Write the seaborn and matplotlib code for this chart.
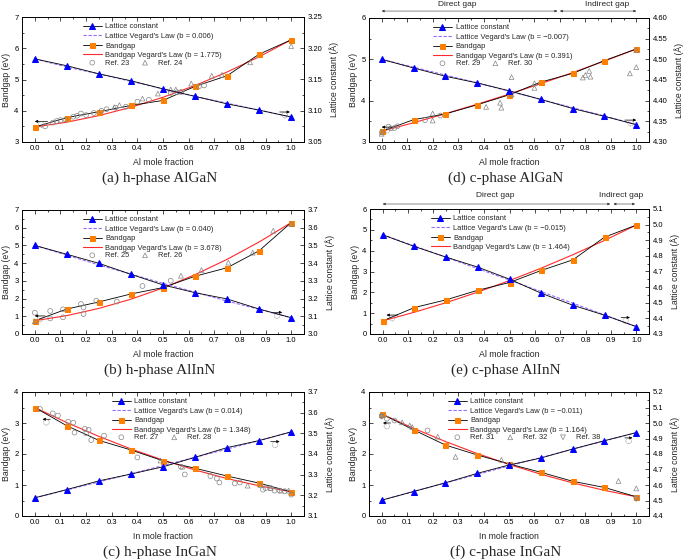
import matplotlib
matplotlib.use('Agg')
import matplotlib.pyplot as plt
from matplotlib.patches import Ellipse
from matplotlib.ticker import AutoMinorLocator, MultipleLocator, FormatStrFormatter
import seaborn as sns

sns.set_theme(style='ticks')
plt.rcParams['font.family'] = ['Liberation Sans', 'DejaVu Sans']
plt.rcParams['axes.linewidth'] = 0.6

# composition grid of the calculated points
x_comp = [0.0, 0.125, 0.25, 0.375, 0.5, 0.625, 0.75, 0.875, 1.0]

# (a) h-phase AlGaN
a_gap = [3.48, 3.78, 3.97, 4.17, 4.33, 4.78, 5.12, 5.81, 6.27]
a_gap_veg = [3.48, 3.635, 3.845, 4.110, 4.431, 4.808, 5.240, 5.727, 6.27]
a_lat = [3.183, 3.172, 3.159, 3.148, 3.135, 3.123, 3.111, 3.101, 3.090]
a_lat_veg = [3.183, 3.170, 3.159, 3.147, 3.135, 3.123, 3.112, 3.101, 3.090]
a_ref23_x = [0.04, 0.07, 0.085, 0.10, 0.12, 0.15, 0.165, 0.18, 0.20, 0.23, 0.26, 0.28,
             0.315, 0.355, 0.40, 0.445, 0.53, 0.555, 0.57, 0.64, 0.66]
a_ref23_y = [3.50, 3.62, 3.67, 3.70, 3.72, 3.81, 3.84, 3.91, 3.86, 3.93, 4.00, 4.05,
             4.10, 4.13, 4.29, 4.35, 4.57, 4.59, 4.60, 4.78, 4.81]
a_ref24_x = [0.31, 0.33, 0.42, 0.48, 0.53, 0.55, 0.61, 0.69, 0.73, 0.84, 1.0]
a_ref24_y = [4.11, 4.18, 4.39, 4.55, 4.68, 4.68, 4.87, 5.12, 5.15, 5.55, 6.07]

# (d) c-phase AlGaN
d_gap = [3.26, 3.54, 3.68, 3.90, 4.14, 4.45, 4.66, 4.97, 5.25]
d_gap_veg = [3.26, 3.466, 3.684, 3.914, 4.157, 4.412, 4.679, 4.958, 5.25]
d_lat = [4.500, 4.479, 4.459, 4.443, 4.424, 4.403, 4.381, 4.362, 4.342]
d_lat_veg = [4.500, 4.481, 4.462, 4.443, 4.423, 4.403, 4.383, 4.363, 4.342]
d_ref29_x = [0.0, 0.026, 0.036, 0.05, 0.062, 0.17, 0.23]
d_ref29_y = [3.23, 3.37, 3.33, 3.34, 3.38, 3.53, 3.64]
d_ref30_x = [0.0, 0.20, 0.20, 0.41, 0.465, 0.47, 0.51, 0.51, 0.60, 0.60,
             0.79, 0.80, 0.815, 0.82, 0.975, 1.0, 1.0]
d_ref30_y = [3.20, 3.69, 3.52, 3.85, 3.95, 3.83, 4.57, 4.15, 4.31, 4.42,
             4.56, 4.62, 4.72, 4.58, 4.66, 4.81, 5.23]

# (b) h-phase AlInN
b_gap = [0.75, 1.41, 1.81, 2.26, 2.62, 3.26, 3.74, 4.70, 6.29]
b_gap_veg = [0.75, 1.04, 1.445, 1.965, 2.60, 3.35, 4.215, 5.195, 6.29]
b_lat = [3.500, 3.450, 3.399, 3.337, 3.277, 3.233, 3.198, 3.141, 3.092]
b_lat_veg = [3.500, 3.445, 3.390, 3.338, 3.286, 3.236, 3.186, 3.139, 3.092]
b_ref25_x = [0.0, 0.06, 0.06, 0.11, 0.11, 0.18, 0.19, 0.19, 0.24, 0.32, 0.42, 0.53]
b_ref25_y = [1.20, 0.88, 1.30, 1.39, 0.94, 1.69, 1.50, 1.13, 1.88, 1.83, 2.71, 3.01]
b_ref26_x = [0.0, 0.57, 0.65, 0.755, 0.85, 0.93, 1.0]
b_ref26_y = [0.72, 3.29, 3.61, 4.03, 4.59, 5.83, 6.22]

# (e) c-phase AlInN
e_gap = [0.63, 1.27, 1.64, 2.10, 2.47, 3.05, 3.56, 4.65, 5.23]
e_gap_veg = [0.63, 1.045, 1.505, 2.012, 2.564, 3.162, 3.805, 4.495, 5.23]
e_lat = [4.935, 4.860, 4.792, 4.728, 4.651, 4.561, 4.484, 4.420, 4.347]
e_lat_veg = [4.935, 4.863, 4.791, 4.718, 4.645, 4.571, 4.497, 4.422, 4.347]

# (c) h-phase InGaN
c_gap = [3.50, 2.91, 2.44, 2.13, 1.78, 1.54, 1.29, 1.06, 0.78]
c_gap_veg = [3.50, 3.013, 2.567, 2.164, 1.803, 1.484, 1.207, 0.973, 0.78]
c_lat = [3.188, 3.228, 3.270, 3.303, 3.338, 3.384, 3.431, 3.465, 3.507]
c_lat_veg = [3.188, 3.226, 3.265, 3.304, 3.344, 3.384, 3.424, 3.465, 3.507]
c_ref27_x = [0.02, 0.07, 0.09, 0.13, 0.15, 0.155, 0.195, 0.20, 0.21, 0.22, 0.27, 0.40,
             0.57, 0.585, 0.685, 0.71, 0.72, 0.78, 0.80, 0.89, 0.90, 0.92, 0.935,
             0.955, 0.975, 1.0]
c_ref27_y = [3.45, 3.31, 3.24, 3.04, 3.01, 2.69, 2.81, 2.67, 2.78, 2.45, 2.59, 1.89,
             1.59, 1.34, 1.29, 1.21, 1.08, 1.05, 1.08, 0.85, 0.90, 0.90, 0.82,
             0.82, 0.80, 0.69]
c_ref28_x = [0.49, 0.575, 0.83, 0.88, 0.92, 0.96, 0.99]
c_ref28_y = [1.79, 1.59, 0.98, 1.00, 0.90, 0.82, 0.82]

# (f) c-phase InGaN
f_gap = [3.29, 2.78, 2.29, 1.97, 1.68, 1.41, 1.12, 0.92, 0.62]
f_gap_veg = [3.29, 2.829, 2.404, 2.016, 1.664, 1.348, 1.069, 0.827, 0.62]
f_lat = [4.502, 4.558, 4.614, 4.675, 4.729, 4.774, 4.832, 4.886, 4.938]
f_lat_veg = [4.502, 4.558, 4.613, 4.668, 4.723, 4.777, 4.831, 4.884, 4.938]
f_ref31_x = [0.0, 0.02, 0.05, 0.18, 1.0]
f_ref31_y = [3.22, 3.14, 3.08, 2.76, 0.58]
f_ref32_x = [0.0, 0.08, 0.11, 0.12, 0.22, 0.29, 0.47, 0.93, 1.0]
f_ref32_y = [3.25, 3.02, 2.92, 2.87, 2.56, 1.91, 1.81, 1.13, 0.89]
f_ref38_x = [0.0, 1.0]
f_ref38_y = [3.20, 0.55]

ORANGE = '#FF8000'
BLUE = '#0000FF'
RED = '#FF2A2A'
PURPLE = '#9A6CFF'
GREY = '#858585'

W, H = 685, 559
fig = plt.figure(figsize=(W / 100, H / 100), dpi=100)


def rect(left, right, top, bottom):
    return [left / W, 1 - bottom / H, (right - left) / W, (bottom - top) / H]


def draw_panel(box, gap, gap_veg, lat, lat_veg, b_lat, b_gap, refs, gap_lim, gap_step,
               lat_lim, lat_step, lat_fmt, xlabel, caption, leg_x, arrows, gaps=None):
    ax = fig.add_axes(rect(*box))
    ax2 = ax.twinx()

    sns.lineplot(x=x_comp, y=gap_veg, ax=ax, color=RED, lw=0.8, zorder=2)
    h_gapveg = ax.lines[-1]
    sns.lineplot(x=x_comp, y=gap, ax=ax, color='black', lw=0.6, marker='s',
                 markersize=3.6, markerfacecolor=ORANGE, markeredgecolor=ORANGE, zorder=3)
    h_gap = ax.lines[-1]
    ref_handles = []
    for rx, ry, mk, lab in refs:
        sns.scatterplot(x=rx, y=ry, ax=ax, marker=mk, s=12, facecolor='none',
                        edgecolor=GREY, linewidth=0.5, zorder=4)
        ax.collections[-1].set_label(lab)
        ref_handles.append(ax.collections[-1])

    sns.lineplot(x=x_comp, y=lat_veg, ax=ax2, color=PURPLE, lw=0.8, ls=(0, (3, 1.5)), zorder=2)
    h_latveg = ax2.lines[-1]
    sns.lineplot(x=x_comp, y=lat, ax=ax2, color='black', lw=0.6, marker='^',
                 markersize=4, markerfacecolor=BLUE, markeredgecolor=BLUE, zorder=3)
    h_lat = ax2.lines[-1]

    for a in (ax, ax2):
        if a.get_legend() is not None:
            a.get_legend().remove()

    ax.set_xlim(-0.05, 1.05)
    ax.set_ylim(*gap_lim)
    ax2.set_ylim(*lat_lim)
    ax.xaxis.set_major_locator(MultipleLocator(0.1))
    ax.xaxis.set_major_formatter(FormatStrFormatter('%.1f'))
    ax.xaxis.set_minor_locator(AutoMinorLocator(2))
    ax.yaxis.set_major_locator(MultipleLocator(gap_step))
    ax.yaxis.set_minor_locator(AutoMinorLocator(2))
    ax2.yaxis.set_major_locator(MultipleLocator(lat_step))
    ax2.yaxis.set_major_formatter(FormatStrFormatter(lat_fmt))
    ax2.yaxis.set_minor_locator(AutoMinorLocator(2))

    ax.tick_params(axis='both', which='both', direction='in', top=True, labelsize=5.5,
                   width=0.5, pad=2.5, colors='black')
    ax.tick_params(which='major', length=3)
    ax.tick_params(which='minor', length=1.6)
    ax2.tick_params(axis='y', which='both', direction='in', labelsize=5.5, width=0.5,
                    pad=2.5, colors='black')
    ax2.tick_params(which='major', length=3)
    ax2.tick_params(which='minor', length=1.6)
    for a in (ax, ax2):
        for s in a.spines.values():
            s.set_linewidth(0.6)
            s.set_color('black')

    ax.set_xlabel(xlabel, fontsize=6.3, labelpad=4)
    ax.set_ylabel('Bandgap (eV)', fontsize=6.3, labelpad=2)
    ax2.set_ylabel('Lattice constant (Å)', fontsize=6.3, labelpad=5)

    leg = ax2.legend([h_lat, h_latveg, h_gap, h_gapveg],
                     ['Lattice constant', "Lattice Vegard's Law (b = %s)" % b_lat,
                      'Bandgap', "Bandgap Vegard's Law (b = %s)" % b_gap],
                     loc='upper left', bbox_to_anchor=(leg_x, 0.95), frameon=False,
                     fontsize=5.4, numpoints=1, handlelength=2.5, handletextpad=0.5,
                     labelspacing=0.3, borderpad=0, borderaxespad=0)
    if refs:
        ax2.add_artist(leg)
        ax2.legend(ref_handles, [r[3] for r in refs], loc='center left',
                   bbox_to_anchor=(leg_x, 0.632), frameon=False, fontsize=5.4,
                   scatterpoints=1, ncol=len(refs), handlelength=2.5, handletextpad=0.5,
                   columnspacing=0.8, borderpad=0, borderaxespad=0)

    # axis indicator arrows with small dashed circles
    span = gap_lim[1] - gap_lim[0]
    for y, x0, x1 in arrows:
        ax.annotate('', xy=(x1, y), xytext=(x0, y),
                    arrowprops=dict(arrowstyle='-|>', lw=0.5, color='black',
                                    mutation_scale=4, shrinkA=0, shrinkB=0), zorder=5)
        ax.add_patch(Ellipse(((x0 + x1) / 2, y - 0.025 * span), 0.022, 0.045 * span,
                             fill=False, ec='#666666', lw=0.4, ls=(0, (1.2, 1)), zorder=5))

    if gaps is not None:
        tr = ax.get_xaxis_transform()
        for x0, x1, xt, label, ya, yt in gaps:
            ax.annotate('', xy=(x0, ya), xytext=(x1, ya), xycoords=tr, textcoords=tr,
                        arrowprops=dict(arrowstyle='<|-|>', lw=0.4, color='#333333',
                                        mutation_scale=3.5, shrinkA=0, shrinkB=0))
            ax.text(xt, yt, label, transform=tr, ha='center', va='center', fontsize=6)

    cx = (box[0] + box[1]) / 2 / W
    fig.text(cx - 0.005, 1 - (box[3] + 36) / H, caption, ha='center', va='center',
             fontsize=11, family=['Liberation Serif', 'DejaVu Serif'])


draw_panel((22, 304, 17, 142), a_gap, a_gap_veg, a_lat, a_lat_veg, '0.006', '1.775',
           [(a_ref23_x, a_ref23_y, 'o', 'Ref. 23'), (a_ref24_x, a_ref24_y, '^', 'Ref. 24')],
           (3, 7), 1, (3.05, 3.25), 0.05, '%.2f', 'Al mole fraction', '(a) h-phase AlGaN',
           0.216, [(3.66, 0.05, 0.0), (3.96, 0.955, 0.995)])

draw_panel((369, 649, 18, 142), d_gap, d_gap_veg, d_lat, d_lat_veg, '\u22120.007', '0.391',
           [(d_ref29_x, d_ref29_y, 'o', 'Ref. 29'), (d_ref30_x, d_ref30_y, '^', 'Ref. 30')],
           (3, 6), 1, (4.30, 4.60), 0.05, '%.2f', 'Al mole fraction', '(d) c-phase AlGaN',
           0.229, [(3.36, 0.04, 0.0), (3.53, 0.955, 1.0)],
           gaps=[(0.0, 0.69, 0.295, 'Direct gap', 1.056, 1.105),
                 (0.70, 1.0, 0.886, 'Indirect gap', 1.056, 1.105)])

draw_panel((22, 304, 210, 334), b_gap, b_gap_veg, b_lat, b_lat_veg, '0.040', '3.678',
           [(b_ref25_x, b_ref25_y, 'o', 'Ref. 25'), (b_ref26_x, b_ref26_y, '^', 'Ref. 26')],
           (0, 7), 1, (3.0, 3.7), 0.1, '%.1f', 'Al mole fraction', '(b) h-phase AlInN',
           0.216, [(1.02, 0.04, 0.0), (1.22, 0.925, 0.965)])

draw_panel((370, 649, 209, 334), e_gap, e_gap_veg, e_lat, e_lat_veg, '\u22120.015', '1.464',
           [], (0, 6), 1, (4.3, 5.1), 0.1, '%.1f', 'Al mole fraction', '(e) c-phase AlInN',
           0.218, [(0.91, 0.06, 0.015), (0.79, 0.94, 0.975)],
           gaps=[(0.0, 0.897, 0.444, 'Direct gap', 1.04, 1.105),
                 (0.91, 0.995, 0.94, 'Indirect gap', 1.04, 1.105)])

draw_panel((22, 304, 392, 516), c_gap, c_gap_veg, c_lat, c_lat_veg, '0.014', '1.348',
           [(c_ref27_x, c_ref27_y, 'o', 'Ref. 27'), (c_ref28_x, c_ref28_y, '^', 'Ref. 28')],
           (0, 4), 1, (3.1, 3.7), 0.1, '%.1f', 'In mole fraction', '(c) h-phase InGaN',
           0.319, [(3.12, 0.06, 0.03), (2.40, 0.92, 0.955)])

draw_panel((369, 649, 392, 516), f_gap, f_gap_veg, f_lat, f_lat_veg, '\u22120.011', '1.164',
           [(f_ref31_x, f_ref31_y, 'o', 'Ref. 31'), (f_ref32_x, f_ref32_y, '^', 'Ref. 32'),
            (f_ref38_x, f_ref38_y, 'v', 'Ref. 38')],
           (0, 4), 1, (4.4, 5.2), 0.1, '%.1f', 'In mole fraction', '(f) c-phase InGaN',
           0.282, [(3.0, 0.035, 0.005), (2.52, 0.955, 0.985)])

fig.savefig('out.png', dpi=100, facecolor='white')
